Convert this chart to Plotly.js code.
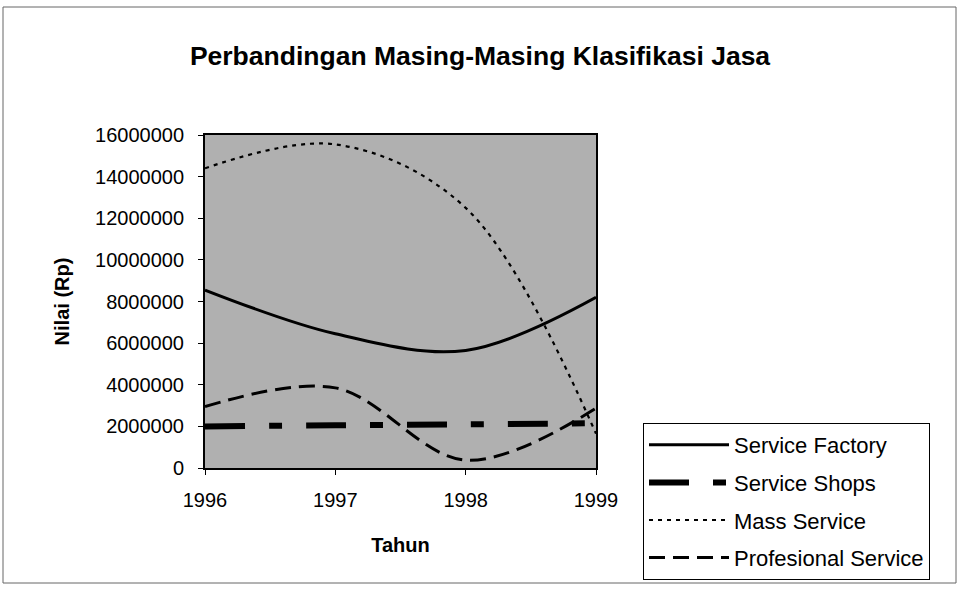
<!DOCTYPE html>
<html>
<head>
<meta charset="utf-8">
<script src="https://cdn.plot.ly/plotly-3.0.1.min.js"></script>
<style>
html,body{margin:0;padding:0;background:#fff;}
#chart{width:959px;height:600px;}
</style>
</head>
<body>
<div id="chart"></div>
<script>
var years = [1996, 1997, 1998, 1999];
var serviceFactory = [8550000, 6450000, 5650000, 8200000];
var serviceShops = [2000000, 2050000, 2100000, 2150000];
var massService = [14400000, 15550000, 12500000, 1650000];
var profesionalService = [2950000, 3850000, 380000, 2870000];
var seriesNames = ['Service Factory', 'Service Shops', 'Mass Service', 'Profesional Service'];
var yTicks = [0, 2000000, 4000000, 6000000, 8000000, 10000000, 12000000, 14000000, 16000000];

var FONT = 'Arial, "Liberation Sans", sans-serif';

function tr(name, y, width, dash, group) {
  return {
    x: years, y: y, name: name, type: 'scatter', mode: 'lines',
    legendgroup: group,
    line: {color: '#000', width: width, dash: dash, shape: 'spline', smoothing: 1},
    hoverinfo: 'skip'
  };
}

var data = [
  tr(seriesNames[0], serviceFactory, 3, 'solid', 'a'),
  tr(seriesNames[1], serviceShops, 6, '40px,24px,13px,24px', 'b'),
  tr(seriesNames[2], massService, 2.2, '4px,5px', 'c'),
  tr(seriesNames[3], profesionalService, 3, '16px,8px', 'd')
];

var L = 205, R = 596, T = 135, B = 468;
var W = 959, H = 600;
function px(x) { return (x - L) / (R - L); }
function py(y) { return (B - y) / (B - T); }

var layout = {
  width: W, height: H,
  margin: {l: L, r: W - R, t: T, b: H - B, pad: 0},
  paper_bgcolor: '#fff',
  plot_bgcolor: '#b0b0b0',
  font: {family: FONT, color: '#000'},
  title: {
    text: '<b>Perbandingan Masing-Masing Klasifikasi Jasa</b>',
    font: {family: FONT, size: 26.5, color: '#000'},
    x: 480 / W, xref: 'container', xanchor: 'center',
    y: 1 - 56 / H, yref: 'container', yanchor: 'middle'
  },
  xaxis: {
    range: [1996, 1999],
    tickvals: years,
    ticktext: years.map(String),
    ticks: 'outside', ticklen: 5, tickcolor: '#000', tickwidth: 1,
    showline: true, linecolor: '#000', linewidth: 2, mirror: true,
    showgrid: false, zeroline: false,
    tickfont: {family: FONT, size: 20, color: '#000'},
    ticklabelstandoff: 8,
    title: {text: '<b>Tahun</b>', font: {family: FONT, size: 20, color: '#000'}, standoff: 28}
  },
  yaxis: {
    range: [0, 16000000],
    tickvals: yTicks,
    ticktext: yTicks.map(String),
    ticks: 'outside', ticklen: 5, tickcolor: '#000', tickwidth: 1,
    showline: true, linecolor: '#000', linewidth: 2, mirror: true,
    showgrid: false, zeroline: false,
    tickfont: {family: FONT, size: 20, color: '#000'},
    ticklabelstandoff: 10,
    title: {text: '<b>Nilai (Rp)</b>', font: {family: FONT, size: 20, color: '#000'}, standoff: 20}
  },
  showlegend: true,
  legend: {
    x: px(643), xanchor: 'left',
    y: py(423), yanchor: 'top',
    bgcolor: '#fff', bordercolor: '#000', borderwidth: 1,
    font: {family: FONT, size: 22, color: '#000'},
    itemwidth: 80,
    traceorder: 'grouped',
    tracegroupgap: 6
  },
  shapes: [{
    type: 'rect', xref: 'paper', yref: 'paper',
    x0: px(3), x1: px(956), y0: py(583), y1: py(7),
    line: {color: '#666', width: 1}, fillcolor: 'rgba(0,0,0,0)', layer: 'below'
  }]
};

Plotly.newPlot('chart', data, layout, {staticPlot: true, displayModeBar: false});
</script>
</body>
</html>
